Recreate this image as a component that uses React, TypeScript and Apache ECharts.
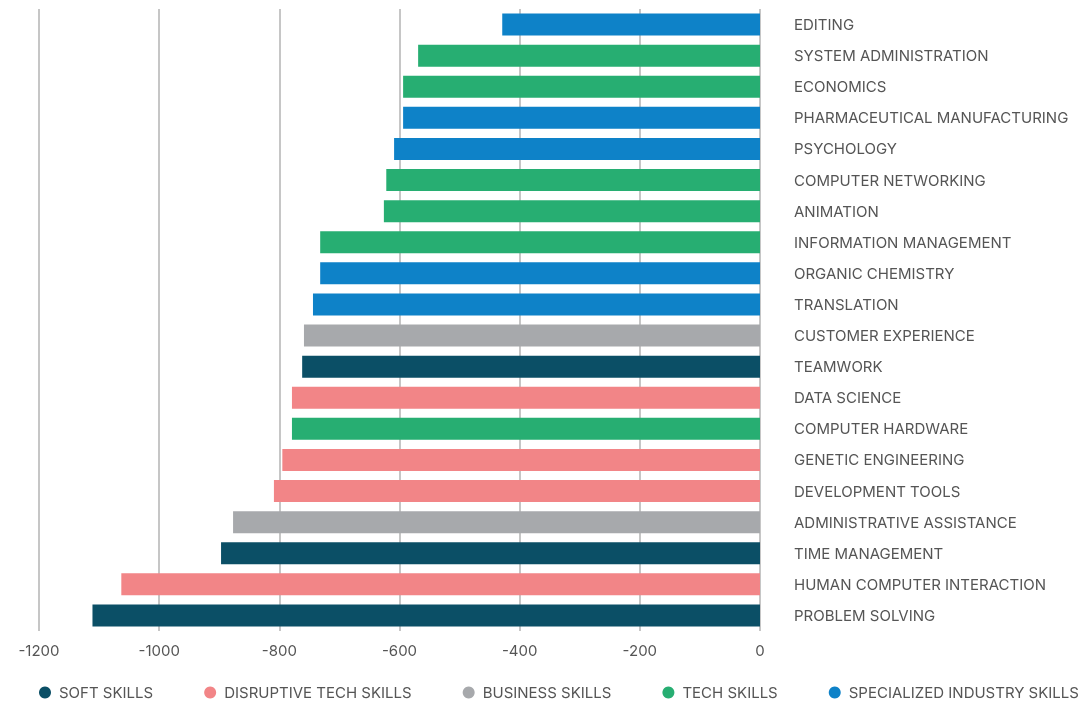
import React, { useEffect, useRef } from "react";
import * as echarts from "echarts";

const categories = [
  "EDITING",
  "SYSTEM ADMINISTRATION",
  "ECONOMICS",
  "PHARMACEUTICAL MANUFACTURING",
  "PSYCHOLOGY",
  "COMPUTER NETWORKING",
  "ANIMATION",
  "INFORMATION MANAGEMENT",
  "ORGANIC CHEMISTRY",
  "TRANSLATION",
  "CUSTOMER EXPERIENCE",
  "TEAMWORK",
  "DATA SCIENCE",
  "COMPUTER HARDWARE",
  "GENETIC ENGINEERING",
  "DEVELOPMENT TOOLS",
  "ADMINISTRATIVE ASSISTANCE",
  "TIME MANAGEMENT",
  "HUMAN COMPUTER INTERACTION",
  "PROBLEM SOLVING",
];

const values = [
  -429, -569, -594, -594, -609, -622, -626, -732, -732, -744,
  -759, -762, -779, -779, -795, -809, -877, -897, -1063, -1111,
];

const groups = [
  "SPECIALIZED INDUSTRY SKILLS",
  "TECH SKILLS",
  "TECH SKILLS",
  "SPECIALIZED INDUSTRY SKILLS",
  "SPECIALIZED INDUSTRY SKILLS",
  "TECH SKILLS",
  "TECH SKILLS",
  "TECH SKILLS",
  "SPECIALIZED INDUSTRY SKILLS",
  "SPECIALIZED INDUSTRY SKILLS",
  "BUSINESS SKILLS",
  "SOFT SKILLS",
  "DISRUPTIVE TECH SKILLS",
  "TECH SKILLS",
  "DISRUPTIVE TECH SKILLS",
  "DISRUPTIVE TECH SKILLS",
  "BUSINESS SKILLS",
  "SOFT SKILLS",
  "DISRUPTIVE TECH SKILLS",
  "SOFT SKILLS",
];

const seriesNames = [
  "SOFT SKILLS",
  "DISRUPTIVE TECH SKILLS",
  "BUSINESS SKILLS",
  "TECH SKILLS",
  "SPECIALIZED INDUSTRY SKILLS",
];

const seriesColors = ["#0b4f66", "#f28587", "#a7a9ac", "#27ae72", "#0e82c8"];

const xTicks = { min: -1200, max: 0, interval: 200 };

export default function App() {
  const ref = useRef<HTMLDivElement>(null);
  useEffect(() => {
    if (!ref.current) return;
    const chart = echarts.init(ref.current, null, { renderer: "svg" });
    const font = "Inter, sans-serif";
    chart.setOption({
      animation: false,
      textStyle: { fontFamily: font },
      grid: { left: 39, right: 323, top: 9, bottom: 71 },
      xAxis: {
        type: "value",
        min: xTicks.min,
        max: xTicks.max,
        interval: xTicks.interval,
        axisLine: { show: false },
        axisTick: { show: false },
        axisLabel: {
          color: "#555",
          fontSize: 15,
          margin: 12,
          fontFamily: font,
          formatter: (v: number) => String(v),
        },
        splitLine: { lineStyle: { color: "#b3b3b3", width: 1.5 } },
      },
      yAxis: {
        type: "category",
        data: categories,
        position: "right",
        inverse: true,
        axisLine: { show: false },
        axisTick: { show: false },
        axisLabel: { color: "#555", fontSize: 15, margin: 34, fontFamily: font },
      },
      legend: {
        top: 685,
        left: 39,
        padding: 0,
        itemGap: 51,
        itemWidth: 12,
        itemHeight: 12,
        icon: "circle",
        data: seriesNames,
        textStyle: { color: "#555", fontSize: 15, fontFamily: font, padding: [0, 0, 0, 3] },
      },
      series: seriesNames.map((name, i) => ({
        name,
        type: "bar",
        stack: "all",
        barWidth: 22,
        itemStyle: { color: seriesColors[i] },
        data: values.map((v, j) => (groups[j] === name ? v : null)),
      })),
    });
    return () => chart.dispose();
  }, []);
  return (
    <div
      ref={ref}
      style={{ position: "fixed", left: 0, top: 0, width: 1083, height: 702 }}
    />
  );
}
